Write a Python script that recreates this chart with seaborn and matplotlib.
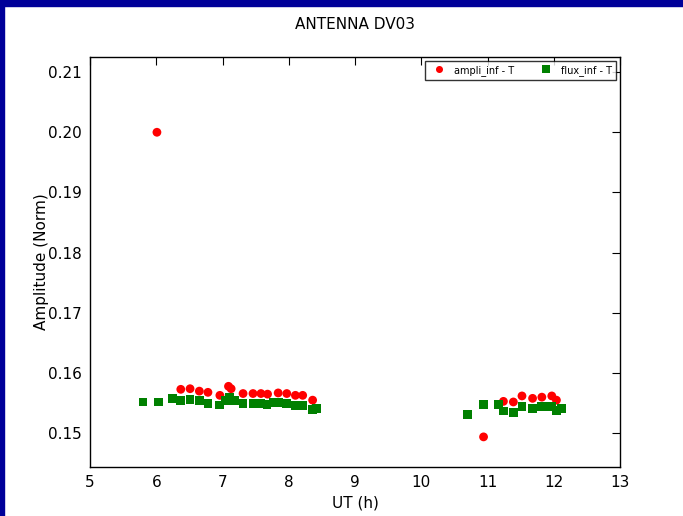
import pandas as pd
import matplotlib
matplotlib.use("Agg")
import matplotlib.pyplot as plt
import seaborn as sns
from matplotlib.patches import Rectangle

# ampli_inf - T (red circles)
ampli_ut = [6.01, 6.37, 6.51, 6.65, 6.78, 6.96, 7.09, 7.13, 7.31, 7.46, 7.58, 7.68,
            7.84, 7.97, 8.10, 8.21, 8.36,
            10.94, 11.24, 11.39, 11.52, 11.68, 11.82, 11.97, 12.04]
ampli_val = [0.2000, 0.1573, 0.1574, 0.1570, 0.1568, 0.1563, 0.1578, 0.1574, 0.1566, 0.1566,
             0.1566, 0.1565, 0.1567, 0.1566, 0.1563, 0.1563, 0.1555,
             0.1494, 0.1553, 0.1552, 0.1562, 0.1558, 0.1560, 0.1562, 0.1555]

# flux_inf - T (green squares)
flux_ut = [5.80, 6.03, 6.24, 6.37, 6.51, 6.65, 6.78, 6.96, 7.04, 7.10, 7.18, 7.31,
           7.46, 7.58, 7.67, 7.77, 7.84, 7.97, 8.10, 8.21, 8.36, 8.42,
           10.70, 10.94, 11.17, 11.24, 11.39, 11.52, 11.68, 11.82, 11.89, 11.97, 12.04, 12.12]
flux_val = [0.1552, 0.1552, 0.1558, 0.1554, 0.1556, 0.1554, 0.1550, 0.1547, 0.1554, 0.1560,
            0.1555, 0.1549, 0.1549, 0.1549, 0.1548, 0.1551, 0.1551, 0.1549, 0.1546, 0.1546,
            0.1539, 0.1541,
            0.1531, 0.1548, 0.1548, 0.1537, 0.1535, 0.1545, 0.1541, 0.1544, 0.1544, 0.1545,
            0.1538, 0.1541]

series_names = ["ampli_inf - T", "flux_inf - T"]
y_ticks = [0.15, 0.16, 0.17, 0.18, 0.19, 0.20, 0.21]

df = pd.concat([
    pd.DataFrame({"UT": ampli_ut, "Amp": ampli_val, "serie": series_names[0]}),
    pd.DataFrame({"UT": flux_ut, "Amp": flux_val, "serie": series_names[1]}),
], ignore_index=True)

sns.set_style("white")
plt.rcParams["font.family"] = ["DejaVu Sans"]
plt.rcParams["text.color"] = "black"
plt.rcParams["axes.labelcolor"] = "black"
plt.rcParams["xtick.color"] = "black"
plt.rcParams["ytick.color"] = "black"

fig = plt.figure(figsize=(6.83, 5.16), dpi=100)
ax = fig.add_axes([0.1318, 0.095, 0.776, 0.7945])

sns.scatterplot(data=df, x="UT", y="Amp", hue="serie", style="serie",
                palette={series_names[0]: "red", series_names[1]: "green"},
                markers={series_names[0]: "o", series_names[1]: "s"},
                s=40, linewidth=0, ax=ax)

ax.set_xlim(5, 13)
ax.set_ylim(0.1444, 0.2125)
ax.set_xticks(range(5, 14))
ax.set_yticks(y_ticks)
ax.set_yticklabels([f"{v:.2f}" for v in y_ticks])
ax.tick_params(direction="in", top=True, right=True, length=6, width=0.8,
               labelsize=11, pad=6)
for sp in ax.spines.values():
    sp.set_color("black")
    sp.set_linewidth(1)

ax.set_xlabel("UT (h)", fontsize=11)
ax.set_ylabel("Amplitude (Norm)", fontsize=11, labelpad=-1)
ax.set_title("ANTENNA DV03", fontsize=11, pad=20)

leg = ax.legend(loc="upper right", ncol=2, fontsize=7, frameon=True, fancybox=False,
                borderaxespad=0.4, handletextpad=0.6, columnspacing=2.2,
                markerscale=0.8)
leg.get_frame().set_edgecolor("black")
leg.get_frame().set_linewidth(1)

# screenshot border (dark blue bands on top and left)
fig.patches.append(Rectangle((0, 1 - 6 / 516), 1, 6 / 516, transform=fig.transFigure,
                             color="#000099", zorder=10))
fig.patches.append(Rectangle((0, 0), 4 / 683, 1, transform=fig.transFigure,
                             color="#000099", zorder=10))

fig.savefig("out.png", dpi=100)
